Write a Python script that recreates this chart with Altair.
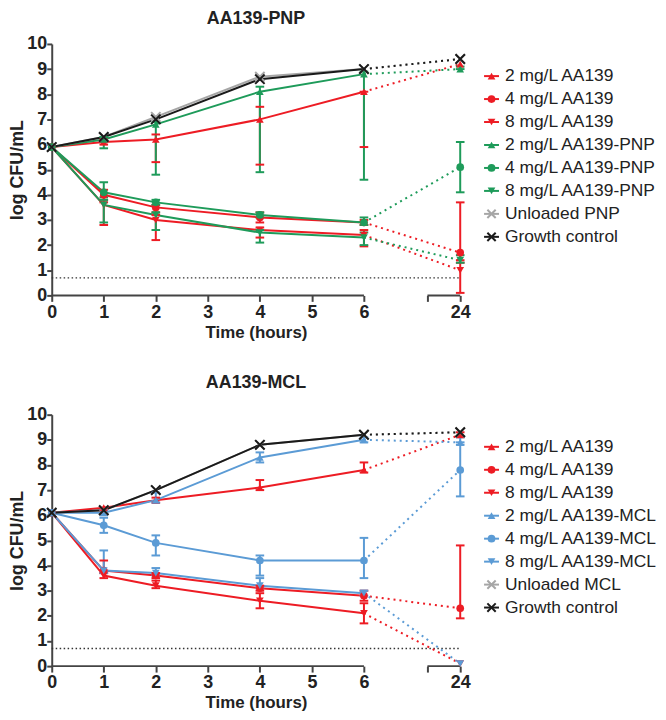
import altair as alt
import pandas as pd

# ---------------- data ----------------
TIMES = [0, 1, 2, 4, 6, 24]
LOD = 0.7
POS24 = 7.85      # axis position used for the 24 h point (broken axis)
GAP_END = 7.22    # start of the second axis segment

SERIES_PNP = ["2 mg/L AA139", "4 mg/L AA139", "8 mg/L AA139",
              "2 mg/L AA139-PNP", "4 mg/L AA139-PNP", "8 mg/L AA139-PNP",
              "Unloaded PNP", "Growth control"]
SERIES_MCL = ["2 mg/L AA139", "4 mg/L AA139", "8 mg/L AA139",
              "2 mg/L AA139-MCL", "4 mg/L AA139-MCL", "8 mg/L AA139-MCL",
              "Unloaded MCL", "Growth control"]

# PNP panel: means, lower and upper error-bar ends
PNP_AA2 = [5.9, 6.1, 6.2, 7.0, 8.1, 9.2]
PNP_AA2_LO = [5.9, 6.0, 5.3, 5.2, 5.9, 9.2]
PNP_AA2_HI = [5.9, 6.2, 6.4, 7.5, 8.1, 9.2]
PNP_AA4 = [5.9, 4.0, 3.5, 3.1, 2.9, 1.7]
PNP_AA4_LO = [5.9, 3.8, 3.3, 2.9, 2.8, 1.4]
PNP_AA4_HI = [5.9, 4.2, 3.6, 3.3, 3.0, 3.7]
PNP_AA8 = [5.9, 3.6, 3.0, 2.6, 2.4, 1.0]
PNP_AA8_LO = [5.9, 2.8, 2.2, 2.3, 1.95, 0.1]
PNP_AA8_HI = [5.9, 3.7, 3.2, 2.7, 2.6, 1.3]
PNP_NP2 = [5.9, 6.2, 6.8, 8.1, 8.8, 9.0]
PNP_NP2_LO = [5.9, 5.85, 4.8, 4.9, 4.6, 9.0]
PNP_NP2_HI = [5.9, 6.3, 6.9, 8.3, 8.9, 9.1]
PNP_NP4 = [5.9, 4.1, 3.7, 3.2, 2.9, 5.1]
PNP_NP4_LO = [5.9, 3.9, 3.6, 3.1, 2.8, 4.1]
PNP_NP4_HI = [5.9, 4.5, 3.8, 3.3, 3.1, 6.1]
PNP_NP8 = [5.9, 3.6, 3.2, 2.5, 2.3, 1.4]
PNP_NP8_LO = [5.9, 2.9, 2.6, 2.1, 2.0, 1.3]
PNP_NP8_HI = [5.9, 3.8, 3.3, 2.6, 2.5, 1.6]
PNP_UNL = [5.9, 6.3, 7.1, 8.7, 9.0, 9.4]
PNP_GC = [5.9, 6.3, 7.0, 8.6, 9.0, 9.4]

# MCL panel
MCL_AA2 = [6.1, 6.3, 6.6, 7.1, 7.8, 9.2]
MCL_AA2_LO = [6.1, 6.2, 6.5, 7.0, 7.7, 9.1]
MCL_AA2_HI = [6.1, 6.3, 6.7, 7.4, 8.1, 9.3]
MCL_AA4 = [6.1, 3.8, 3.6, 3.1, 2.8, 2.3]
MCL_AA4_LO = [6.1, 3.7, 3.5, 3.0, 2.6, 1.9]
MCL_AA4_HI = [6.1, 4.2, 3.7, 3.2, 3.0, 4.8]
MCL_AA8 = [6.1, 3.6, 3.2, 2.6, 2.1, 0.1]
MCL_AA8_LO = [6.1, 3.5, 3.1, 2.3, 1.7, 0.1]
MCL_AA8_HI = [6.1, 3.7, 3.4, 2.9, 2.5, 0.1]
MCL_NP2 = [6.1, 6.1, 6.6, 8.3, 9.0, 8.9]
MCL_NP2_LO = [6.1, 6.0, 6.5, 8.1, 8.9, 8.9]
MCL_NP2_HI = [6.1, 6.2, 6.9, 8.5, 9.1, 9.1]
MCL_NP4 = [6.1, 5.6, 4.9, 4.2, 4.2, 7.8]
MCL_NP4_LO = [6.1, 5.3, 4.4, 3.6, 3.5, 6.75]
MCL_NP4_HI = [6.1, 5.9, 5.2, 4.4, 5.1, 8.8]
MCL_NP8 = [6.1, 3.8, 3.7, 3.2, 2.9, 0.1]
MCL_NP8_LO = [6.1, 3.7, 3.6, 3.1, 2.8, 0.1]
MCL_NP8_HI = [6.1, 4.6, 3.9, 3.5, 3.0, 0.1]
MCL_UNL = [6.1, 6.2, 7.0, 8.8, 9.2, 9.3]
MCL_GC = [6.1, 6.2, 7.0, 8.8, 9.2, 9.3]

RED = "#ED1C24"
GREEN = "#1E9B5A"
BLUE = "#5B9BD5"
GRAY = "#A6A6A6"
BLACK = "#1A1A1A"
XPATH = "M-1,-1L1,1M-1,1L1,-1"
SHAPES = ["triangle-up", "circle", "triangle-down",
          "triangle-up", "circle", "triangle-down", XPATH, XPATH]
FONT = "Liberation Sans"


def build_df(series, means, los, his):
    rows = []
    for s, m, lo, hi in zip(series, means, los, his):
        for t, v, l, h in zip(TIMES, m, lo, hi):
            rows.append({"series": s, "t": t, "y": v, "lo": l, "hi": h})
    return pd.DataFrame(rows)


df_pnp = build_df(
    SERIES_PNP,
    [PNP_AA2, PNP_AA4, PNP_AA8, PNP_NP2, PNP_NP4, PNP_NP8, PNP_UNL, PNP_GC],
    [PNP_AA2_LO, PNP_AA4_LO, PNP_AA8_LO, PNP_NP2_LO, PNP_NP4_LO, PNP_NP8_LO, PNP_UNL, PNP_GC],
    [PNP_AA2_HI, PNP_AA4_HI, PNP_AA8_HI, PNP_NP2_HI, PNP_NP4_HI, PNP_NP8_HI, PNP_UNL, PNP_GC],
)
df_mcl = build_df(
    SERIES_MCL,
    [MCL_AA2, MCL_AA4, MCL_AA8, MCL_NP2, MCL_NP4, MCL_NP8, MCL_UNL, MCL_GC],
    [MCL_AA2_LO, MCL_AA4_LO, MCL_AA8_LO, MCL_NP2_LO, MCL_NP4_LO, MCL_NP8_LO, MCL_UNL, MCL_GC],
    [MCL_AA2_HI, MCL_AA4_HI, MCL_AA8_HI, MCL_NP2_HI, MCL_NP4_HI, MCL_NP8_HI, MCL_UNL, MCL_GC],
)

PLOT_W = 411
PLOT_H = 253
LEG_W = 174


def make_panel(df, title, series, colors, title_offset):
    xscale = alt.Scale(domain=[0, POS24], nice=False, zero=False)
    yscale = alt.Scale(domain=[0, 10], nice=False)
    xaxis = alt.Axis(values=[0, 1, 2, 3, 4, 5, 6, GAP_END, POS24],
                     labelExpr="datum.value > 7.5 ? '24' : (datum.value > 6.5 ? '' : datum.label)",
                     domain=False, grid=False, tickSize=6, tickWidth=2, tickColor="#444",
                     labelFlush=False, labelOverlap=False,
                     labelFont=FONT, labelFontSize=18, labelFontWeight="bold", labelColor="#222",
                     labelPadding=2, titleFont=FONT, titleFontSize=17, titleFontWeight="bold",
                     titleColor="#222", titlePadding=3)
    yaxis = alt.Axis(values=list(range(11)), grid=False, domainColor="#444", domainWidth=2,
                     tickSize=5, tickWidth=2, tickColor="#444", labelFlush=False,
                     labelFont=FONT, labelFontSize=18, labelFontWeight="bold", labelColor="#222",
                     labelPadding=0, titleFont=FONT, titleFontSize=18, titleFontWeight="bold",
                     titleColor="#222", titlePadding=0)

    def X(f):
        return alt.X(f, scale=xscale, axis=xaxis, title="Time (hours)")

    def Y(f):
        return alt.Y(f, scale=yscale, axis=yaxis, title="log CFU/mL")

    color = alt.Color("series:N", scale=alt.Scale(domain=series, range=colors), legend=None)
    shape = alt.Shape("series:N", scale=alt.Scale(domain=series, range=SHAPES), legend=None)
    xmark_series = series[6:]

    base = alt.Chart(df).transform_calculate(xp=f"datum.t == 24 ? {POS24} : datum.t")

    lod = alt.Chart(pd.DataFrame({"x0": [0], "x1": [POS24], "y": [LOD]})).mark_rule(
        color="#333", strokeWidth=1.3, strokeDash=[1.5, 2.5]
    ).encode(x=X("x0:Q"), x2="x1:Q", y=Y("y:Q"))

    axis_seg = alt.Chart(pd.DataFrame({"x0": [0, GAP_END], "x1": [6, POS24], "y": [0, 0]})).mark_rule(
        color="#444", strokeWidth=2
    ).encode(x=X("x0:Q"), x2="x1:Q", y=Y("y:Q"))

    solid = base.transform_filter("datum.t <= 6").mark_line(strokeWidth=2).encode(
        x=X("xp:Q"), y=Y("y:Q"), color=color, detail="series:N")
    dotted = base.transform_filter("datum.t >= 6").mark_line(strokeWidth=2, strokeDash=[2, 4]).encode(
        x=X("xp:Q"), y=Y("y:Q"), color=color, detail="series:N")

    eb = base.transform_filter("datum.hi - datum.lo > 0.05")
    bars = eb.mark_rule(strokeWidth=2).encode(x=X("xp:Q"), y=Y("lo:Q"), y2="hi:Q", color=color)
    caps = eb.transform_fold(["lo", "hi"], as_=["which", "yc"]).mark_point(
        shape="stroke", filled=False, size=75, strokeWidth=2, opacity=1
    ).encode(x=X("xp:Q"), y=Y("yc:Q"), color=color)

    filled_pts = base.transform_filter(
        alt.FieldOneOfPredicate(field="series", oneOf=series[:6])
    ).mark_point(filled=True, size=60, opacity=1).encode(
        x=X("xp:Q"), y=Y("y:Q"), color=color, shape=shape)
    x_pts = base.transform_filter(
        alt.FieldOneOfPredicate(field="series", oneOf=xmark_series)
    ).mark_point(filled=False, size=90, strokeWidth=2, opacity=1).encode(
        x=X("xp:Q"), y=Y("y:Q"), color=color, shape=shape)

    plot = alt.layer(lod, axis_seg, solid, dotted, bars, caps, filled_pts, x_pts).properties(
        width=PLOT_W, height=PLOT_H,
        title=alt.TitleParams(title, font=FONT, fontSize=18, fontWeight="bold", color="#222",
                              anchor="middle", frame="group", offset=title_offset),
    )

    # custom legend (line + marker + label)
    ldf = pd.DataFrame({"series": series, "idx": list(range(len(series)))})
    ly = alt.Y("idx:Q", scale=alt.Scale(domain=[-1.40, 9.55], reverse=True, nice=False, zero=False), axis=None)
    lbase = alt.Chart(ldf)
    lrule = lbase.mark_rule(strokeWidth=2).encode(x=alt.value(0), x2=alt.value(15), y=ly, color=color)
    lfilled = lbase.transform_filter(
        alt.FieldOneOfPredicate(field="series", oneOf=series[:6])
    ).mark_point(filled=True, size=60, opacity=1).encode(x=alt.value(7.5), y=ly, color=color, shape=shape)
    lx = lbase.transform_filter(
        alt.FieldOneOfPredicate(field="series", oneOf=xmark_series)
    ).mark_point(filled=False, size=70, strokeWidth=2, opacity=1).encode(x=alt.value(7.5), y=ly, color=color, shape=shape)
    ltext = lbase.mark_text(align="left", baseline="middle", font=FONT, fontSize=17.5, color="#222").encode(
        x=alt.value(21), y=ly, text="series:N")
    legend = alt.layer(lrule, lfilled, lx, ltext).properties(width=LEG_W, height=PLOT_H)

    return alt.hconcat(plot, legend, spacing=12)


colors_pnp = [RED, RED, RED, GREEN, GREEN, GREEN, GRAY, BLACK]
colors_mcl = [RED, RED, RED, BLUE, BLUE, BLUE, GRAY, BLACK]

top = make_panel(df_pnp, "AA139-PNP", SERIES_PNP, colors_pnp, 7)
bottom = make_panel(df_mcl, "AA139-MCL", SERIES_MCL, colors_mcl, 14)

chart = alt.vconcat(top, bottom, spacing=34).resolve_scale(
    color="independent", shape="independent"
).properties(
    padding={"left": 0, "top": 0, "right": 0, "bottom": 0}
).configure_view(stroke=None)

chart.save("out.html", embed_options={"renderer": "svg", "actions": False})
